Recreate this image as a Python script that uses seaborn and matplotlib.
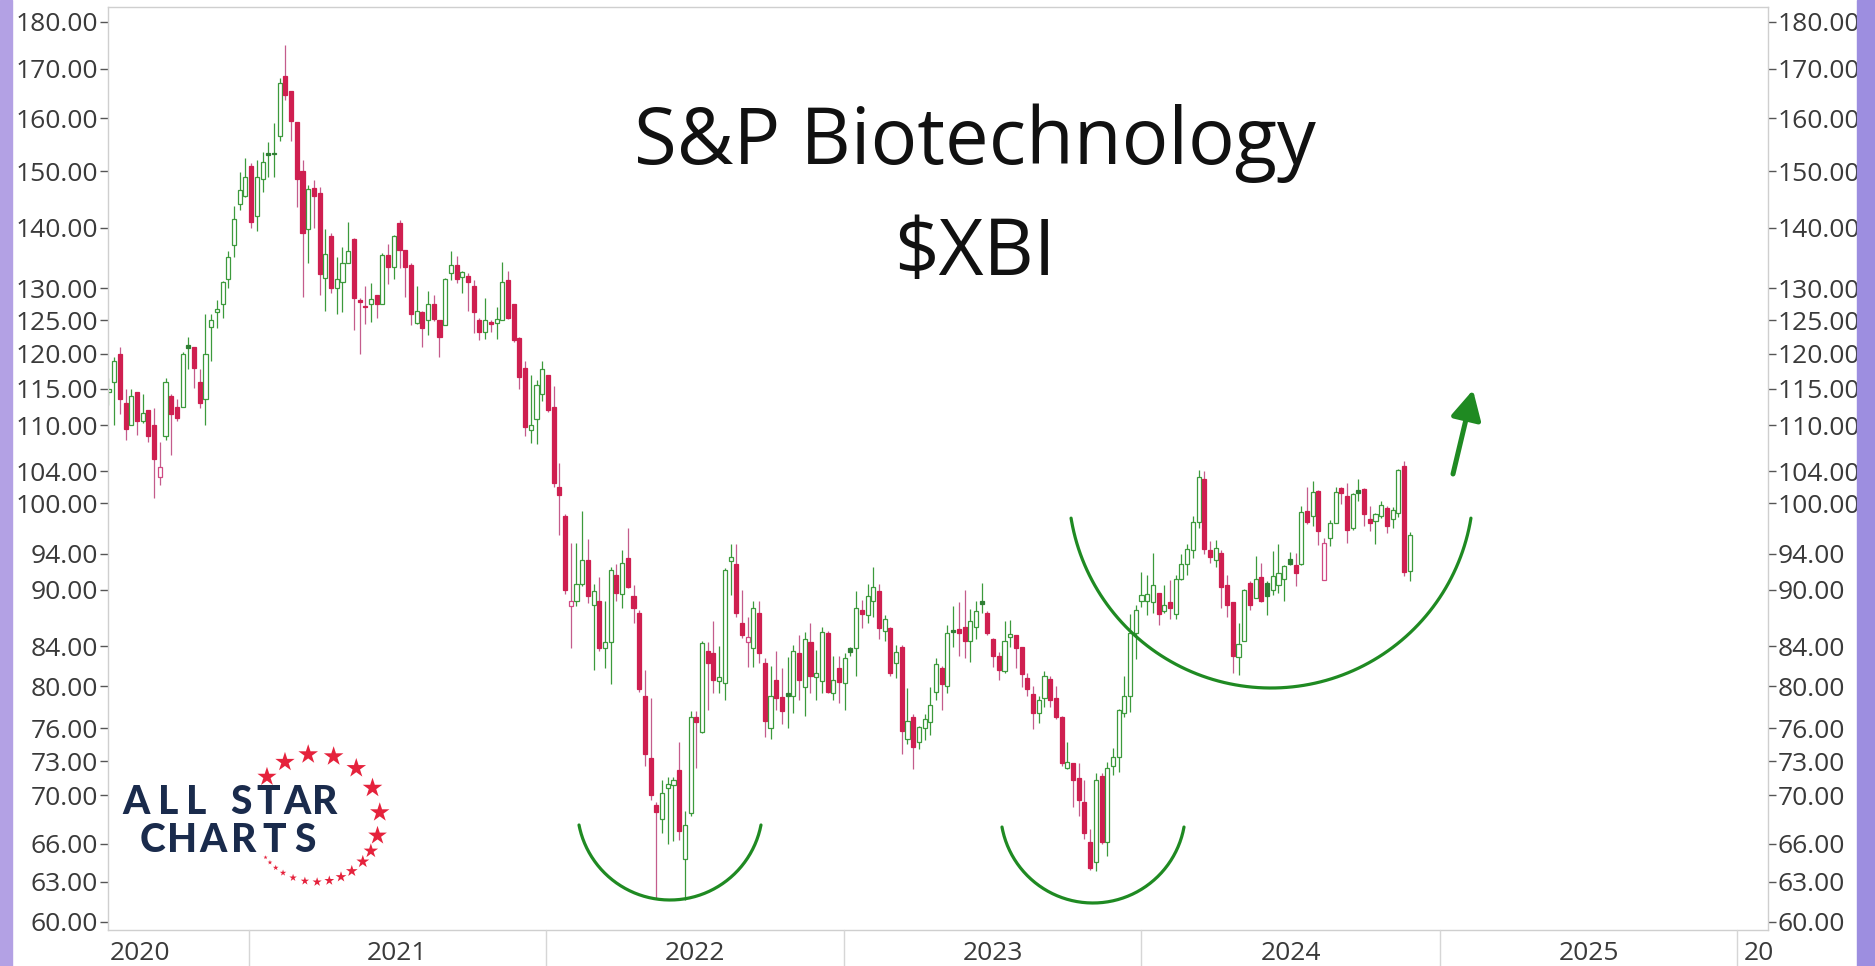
import numpy as np
import pandas as pd
import matplotlib
matplotlib.use("Agg")
import matplotlib.pyplot as plt
import matplotlib.dates as mdates
from matplotlib.ticker import FixedLocator, FixedFormatter, NullLocator
from matplotlib.patches import Rectangle
import seaborn as sns

# ---------------- data (weekly candles) ----------------
week_start = "2020-07-13"
opens = [114.5,116,120,113,110,114.5,110.5,112,110,103.2,108.5,114,112.5,112.5,121.3,121,116,113.5,124,126.3,
         127.5,131.5,137,144,145.5,151,142,148.5,153.3,153.4,156.5,168.5,165.5,159.3,150,139.8,147,146,131.7,138.5,
         130,131,134,138,128.2,127.2,127.6,129,127.5,135.4,133.5,140.8,136.2,133.7,124.6,126.3,125,127.5,125,124.3,
         132.5,133.7,131.8,132,130.3,125,123.2,124.8,124.6,125,131.4,127.5,122.3,118,109.4,110.8,114.2,117,112.5,102,
         98.5,88.2,88.8,90.6,93.3,88.3,88.8,83.8,84.4,91.6,89.5,93.5,89.3,87.5,79,73.3,69.2,68,70.6,70.9,
         72.2,64.8,68.5,77,75.6,83.5,83.3,80.5,80.3,93.2,92.9,86.4,84.4,83.8,87.5,82.3,76,80.6,78.9,79.3,
         79,83.3,79.9,84.4,80.9,80.5,85.4,79.3,81.8,80.3,83.8,83.8,87.8,87.2,88.7,89.8,85.6,85.9,82.3,83.9,
         75,77,74.7,76,76.6,79.4,81.8,80,85.7,85.8,86,84.5,86,88.7,87.5,84.7,83,81.5,84.9,85.1,
         83.9,80.8,79.2,77.4,78.8,80.7,78.8,77,72.4,72.8,71.5,69.4,66.1,64.5,71.7,66.1,72.6,73.4,77.4,79,
         85.3,88.8,88.7,88.6,89.6,87.7,88.6,87.3,91.2,92.8,94.4,97.7,103,94.4,93.3,94.1,90.5,88.6,82.9,84.5,
         90.7,89.1,91.4,90.7,89.9,90.5,91.2,93.4,92.7,92.9,99,98.4,101.5,91,95.8,97.6,101.9,100.9,97,101.6,
         101.7,98.1,97.8,98.4,99.4,98.1,98.8,104.6,92.1]
highs = [116.5,119.5,121,115,115,114.5,114.3,112,112.3,107.8,116.5,114.3,113.5,120.2,122.5,121,117.8,126,126,128.1,
         131.1,136,143.7,149.9,152.4,151.4,152,153.5,155.5,159,168,175,165.5,159.3,152,147.5,148.4,147.1,139.7,139.1,
         135,136.7,141,138.2,128.4,130.3,130.9,129,135.8,137.2,138.8,141.3,136.2,134.1,130.3,126.5,129.6,128.9,125,131.6,
         136.1,135.2,132.8,132.5,131.3,125.4,128.5,125,127,134.3,132.8,127.6,122.5,119,117,116.3,119,117,115.4,105,
         98.7,95.3,95.3,99,95.7,90.6,91.4,88.8,92.5,92.9,94.4,97,90.5,87.8,81.6,78.8,69.4,71.3,71.6,71.6,
         74.7,68.7,77.6,77.6,84.5,84.4,86.6,84,92.4,95.1,95.1,89.9,87,88.8,88.8,82.8,82,83.5,81.8,82.9,
         84.1,85.1,85.5,86.4,83.6,86,85.6,83,83,83.3,83.9,89.8,88.9,90.6,92.5,90.6,87.2,86,84.1,84.1,
         79.8,77.3,76.2,77.3,79.9,82.8,82,86.2,88.2,88.6,89.9,87.9,88.8,90.7,87.7,84.8,83.4,86.6,86.7,85.1,
         83.9,81.3,80,79,81.5,81,80,77.1,74.7,72.8,72.8,71.3,67.2,71.9,71.9,72.9,74.2,77.8,81,87.3,
         88.3,91.9,91.6,94.1,89.6,90.5,91,91.6,94,95.1,98.5,104.2,104,95.5,95.6,94.5,91.6,88.6,86.4,90.1,
         90.9,93.8,93,90.9,94.3,95.1,92.7,94.2,94.1,99.7,102,102.7,101.6,95.8,98,102,102,102.5,101.3,103,
         101.9,99.6,98.8,100.3,99.6,99.5,104.3,105.3,96.5]
lows = [112.8,110,111.5,108,110,108.7,110.3,107.7,100.7,102.2,108,106,110.5,112.5,117.8,115.1,112.3,110,119,123.9,
        125.4,130,135,143,145.3,140,139.5,146.2,149,149,155.6,163.5,155.7,143.6,128.6,134,140,128.9,126.5,129.3,
        126,126.3,134,123.5,120,124.5,124.8,125.4,127.5,130.7,131.5,133.3,128.6,124.3,124.5,121,122.8,124.9,119.6,124.3,
        131.4,130.8,129.2,126.5,123.1,122,122.2,123.2,122.2,125,125.2,121.7,115,108.5,107.6,107.5,113.3,111.8,102,96.2,
        89.5,83.8,88.2,90.4,88.5,81.6,83.5,81.8,80.2,88.7,88,90.2,86.4,79.4,72.6,69.6,61.7,66.9,66,66.2,
        66.3,61.6,68.3,72.4,75.5,77.7,79.3,79.3,78.6,89.4,87,84.8,81.9,81.9,82.3,75.2,75,77.7,76.4,76,
        77.4,78.6,77.1,79.3,78.6,79.3,79.3,78.6,78.4,77.7,83,81,85.9,86.4,87,84.7,84.5,81,80.8,73.6,
        74.5,72.3,74.1,74.9,75.4,78.6,77.7,79.3,83.9,83,82.8,82.4,84.7,87.5,85.1,81.9,80.6,81.3,83.9,81.8,
        79.9,79,75.9,76.5,78,78,76.8,72.6,72.3,69,68.3,66.4,63.9,63.8,66.0,65,71.8,72,77,77.5,
        82.7,88.1,87.2,87.5,86.2,87.5,86.8,86.8,91,91.6,93.5,97,94,93,92.5,88,87,81.3,81.1,84.5,
        87.8,89.1,88.6,87.2,89.4,89.6,88.8,92.7,90.4,92.7,97.5,97.3,95,91,94.9,97.6,99.9,95.3,96.8,100.3,
        97.3,96.7,95.1,98.2,96.4,97,98.3,91.5,90.9]
closes = [115,119,113.5,109.5,114,110.5,111.7,108.5,105.5,104.5,116,111.5,111,120,120.8,118,113,120,125,126.8,
          131,135,141.5,146.5,149,141,149,151.7,153,153.2,167,164.5,159.5,148.5,139,146.7,145.5,132.3,135.5,130,
          131.5,134,136,128.4,127.8,127,128.3,127.5,135.4,133.5,138.5,136.2,133.5,126,126.5,123.9,127.6,125.2,122.5,131.5,
          133.7,131.5,132.6,131,126.3,123.3,125,124.4,125.2,131,125.4,122,116.6,109.7,110,115.5,117.8,112,102.5,101,
          90,88.8,90.6,93.3,89.3,89.8,83.8,84.4,92.2,89.6,93,90.3,88,79.7,73.6,70,68.6,70.2,71.0,71.3,
          67,67.5,77,76.6,84.3,82.3,80.6,80.9,92.2,93.6,87.5,85.1,84.9,88,83.3,76.7,79,78.8,77.6,79,
          83.5,80.6,84.7,81,81.3,85.5,79.4,80.6,80.4,82.8,83.4,88,87.3,89.3,90.3,85.9,86.8,81.3,83.4,75.7,
          76.7,74.3,76.1,76.8,78.2,82.2,80.2,85.4,85.5,85.3,84.5,86.6,87.7,88.4,85.3,83,81.6,84.5,85.2,83.8,
          81.2,79.7,77.4,78.6,81,78.6,77,72.8,72.9,71.3,69.6,66.9,64.1,71.3,66.1,72.4,73.4,77.7,79,85.4,
          87.8,89.4,89.5,90.5,87.3,88.3,88.0,91.2,92.9,94.6,97.7,103.2,94.6,93.7,94.7,90.3,88.3,83,84.2,89.9,
          88.3,91.2,88.8,89.3,91.5,91.8,92.6,92.9,91.8,98.9,97.7,101.4,96.7,95.3,97.6,101.4,101.2,96.8,101.1,101.3,
          98.7,97.6,98.7,99.8,97.3,99.2,104.1,92,96.2]

price_ticks = [60, 63, 66, 70, 73, 76, 80, 84, 90, 94, 100, 104, 110, 115, 120, 125, 130, 140, 150, 160, 170, 180]
year_labels = ["2020", "2021", "2022", "2023", "2024", "2025", "20"]
title_lines = ["S&P Biotechnology", "$XBI"]

# ---------------- style ----------------
sns.set_theme(style="white")
plt.rcParams["font.family"] = ["Open Sans", "DejaVu Sans"]

W, H = 1875, 966
fig = plt.figure(figsize=(W / 100, H / 100), dpi=100)
fig.patch.set_facecolor("white")

L, R, T, B = 107.6, 1768.0, 7.0, 930.0
ax = fig.add_axes([L / W, (H - B) / H, (R - L) / W, (B - T) / H])
ax.set_facecolor("white")

df = pd.DataFrame({"open": opens, "high": highs, "low": lows, "close": closes})
df["date"] = pd.date_range(week_start, periods=len(df), freq="7D")
df["x"] = mdates.date2num(df["date"])
df["prev"] = df["close"].shift(1).fillna(df["open"])

GREEN = "#3c9a3c"
GREEN_FILL = "#2f7f34"
RED = "#cf1f50"
RED_WICK = "#c45c8c"
PINK_EDGE = "#d04a84"

faces, edges, wicks = [], [], []
for _, r in df.iterrows():
    up_prev = r["close"] >= r["prev"]
    hollow = r["close"] > r["open"]
    if up_prev:
        wicks.append(GREEN)
        if hollow:
            faces.append("white"); edges.append(GREEN)
        else:
            faces.append(GREEN_FILL); edges.append(GREEN_FILL)
    else:
        wicks.append(RED_WICK)
        if hollow:
            faces.append("white"); edges.append(PINK_EDGE)
        else:
            faces.append(RED); edges.append(RED)

ax.vlines(df["x"], df["low"], df["high"], colors=wicks, linewidth=0.9, zorder=1)
bottoms = np.minimum(df["open"], df["close"])
heights = np.maximum(np.abs(df["close"] - df["open"]), 0.05)
ax.bar(df["x"], heights, bottom=bottoms, width=5.0, color=faces, edgecolor=edges,
       linewidth=0.9, zorder=2)

# axes scales
ax.set_yscale("log")
y_top = 180 * np.exp((21.7 - T) / 819.2)
y_bot = 180 * np.exp(-(B - 21.7) / 819.2)
ax.set_ylim(y_bot, y_top)
ax.yaxis.set_major_locator(FixedLocator(price_ticks))
ax.yaxis.set_major_formatter(FixedFormatter([f"{v:.2f}" for v in price_ticks]))
ax.yaxis.set_minor_locator(NullLocator())
ax.tick_params(axis="y", which="major", left=True, right=True, labelleft=True, labelright=True,
               direction="out", length=6, width=1, color="#555555", labelsize=19,
               labelcolor="#3a3a3a", pad=1)

px_per_week = (1737.5 - 248.7) / (1826 / 7)
ref = mdates.date2num(pd.Timestamp("2021-01-01"))
x_left = ref - (248.7 - L) / px_per_week * 7
x_right = ref + (R - 248.7) / px_per_week * 7
ax.set_xlim(x_left, x_right)
ax.set_xticks([])
ax.grid(False)
for s in ax.spines.values():
    s.set_color("#cfcfcf")
    s.set_linewidth(1)

# ---------------- overlay (pixel coordinates) ----------------
ov = fig.add_axes([0, 0, 1, 1], zorder=5)
ov.set_xlim(0, W)
ov.set_ylim(H, 0)
ov.axis("off")
ov.patch.set_alpha(0)

def xpix(date_str):
    xd = mdates.date2num(pd.Timestamp(date_str))
    return L + (xd - x_left) / (x_right - x_left) * (R - L)

seps = [xpix(f"{y}-01-01") for y in range(2021, 2027)]
for sx in seps:
    ov.plot([sx, sx], [B, H], color="#d6d6d6", lw=1)
lab_y = 953
ov.text(L + 2, lab_y, year_labels[0], ha="left", va="center", fontsize=19, color="#3a3a3a")
for i in range(5):
    ov.text((seps[i] + seps[i + 1]) / 2, lab_y, year_labels[i + 1], ha="center", va="center",
            fontsize=19, color="#3a3a3a")
ov.text(seps[5] + 6, lab_y, year_labels[6], ha="left", va="center", fontsize=19, color="#3a3a3a")

# title
ov.text(975, 164, title_lines[0], ha="center", va="baseline", fontsize=56, color="#111111",
        parse_math=False)
ov.text(975, 275, title_lines[1], ha="center", va="baseline", fontsize=56, color="#111111",
        parse_math=False)

# annotation arcs
ARC = "#1f8a22"
def arc(cx, cy, r, a0, a1):
    t = np.radians(np.linspace(a0, a1, 200))
    ov.plot(cx + r * np.cos(t), cy + r * np.sin(t), color=ARC, lw=2.3, solid_capstyle="round")

arc(670, 807.3, 92.7, 11, 169)
arc(1093, 810.5, 92.5, 10.3, 169.7)
arc(1271, 485.4, 202.6, 9.3, 170.7)

ov.annotate("", xy=(1473, 390), xytext=(1453, 474),
            arrowprops=dict(arrowstyle="-|>,head_length=0.8,head_width=0.42", lw=3.6,
                            color=ARC, mutation_scale=22, shrinkA=0, shrinkB=0))

# logo
NAVY = "#1a2b4c"
for ch, cx in zip("ALLSTAR", [136, 168, 196, 241, 268, 297, 325]):
    ov.text(cx, 802, ch, ha="center", va="center", fontsize=28, fontweight="black",
            color=NAVY, family=["Lato", "DejaVu Sans"])
for ch, cx in zip("CHARTS", [152, 182, 213, 244, 274, 305]):
    ov.text(cx, 841, ch, ha="center", va="center", fontsize=28, fontweight="black",
            color=NAVY, family=["Lato", "DejaVu Sans"])
star_ang = np.array([140, 119, 97, 74, 51, 28, 5, -16, -31, -43, -56, -67, -78, -89,
                     -100, -111, -121, -129, -136, -142])
star_sz = np.array([210, 215, 220, 220, 220, 220, 215, 200, 120, 95, 78, 66, 56, 48,
                    40, 32, 24, 18, 13, 10])
sx_ = 316 + 64 * np.cos(np.radians(star_ang))
sy_ = 818 - 64 * np.sin(np.radians(star_ang))
ov.scatter(sx_, sy_, s=star_sz, marker="*", color="#e5223c", linewidths=0)

# screenshot edge bands
ov.add_patch(Rectangle((0, 0), 12, H, color="#b3a1e4", zorder=10))
ov.add_patch(Rectangle((1857, 0), W - 1857, H, color="#9d8ee0", zorder=10))

fig.savefig("out.png", dpi=100)
